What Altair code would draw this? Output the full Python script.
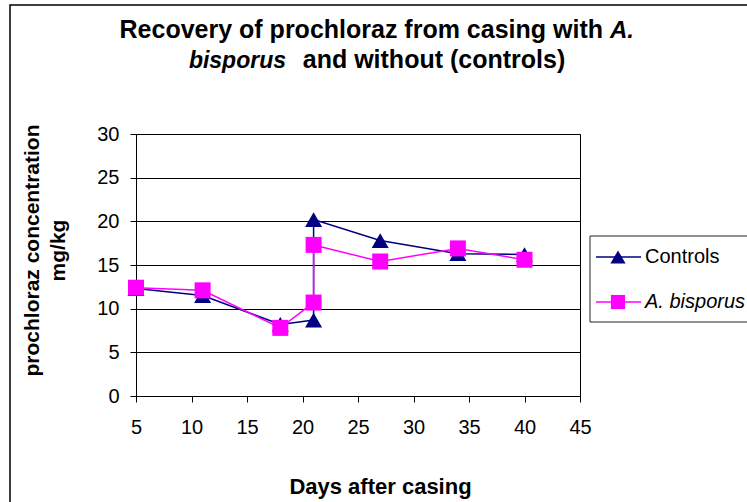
import altair as alt
import pandas as pd

# Measured prochloraz concentrations (mg/kg) by days after casing
days = [5, 11, 18, 21, 21, 27, 34, 40]
controls = [12.3, 11.5, 8.2, 8.7, 20.2, 17.8, 16.3, 16.2]
bisporus = [12.4, 12.1, 7.8, 10.7, 17.3, 15.4, 16.9, 15.6]
series_names = ["Controls", "A. bisporus"]
x_ticks = [5, 10, 15, 20, 25, 30, 35, 40, 45]
y_ticks = [0, 5, 10, 15, 20, 25, 30]

FONT = "Liberation Sans"
NAVY = "#000080"
MAGENTA = "#FF00FF"

rows = []
for name, values in zip(series_names, [controls, bisporus]):
    for i, (d, v) in enumerate(zip(days, values)):
        rows.append({"series": name, "day": d, "value": v, "seq": i})
df = pd.DataFrame(rows)

x_enc = alt.X(
    "day:Q",
    scale=alt.Scale(domain=[5, 45], nice=False, zero=False),
    axis=alt.Axis(
        values=x_ticks, grid=False, tickSize=6, labelPadding=31,
        labelBaseline="alphabetic", labelFlush=False, labelFont=FONT,
        labelFontSize=20, labelColor="black", domainColor="black",
        tickColor="black",
        title="Days after casing", titleFont=FONT, titleFontSize=22,
        titleFontWeight="bold", titleColor="black", titleX=244, titleY=97,
        titleAlign="center", titleBaseline="alphabetic",
    ),
)
y_enc = alt.Y(
    "value:Q",
    scale=alt.Scale(domain=[0, 30], nice=False),
    axis=alt.Axis(
        values=y_ticks, grid=True, gridColor="black", gridWidth=1,
        tickSize=6, labelPadding=11, labelFlush=False, labelFont=FONT,
        labelFontSize=20, labelColor="black", domainColor="black",
        tickColor="black",
        title=["prochloraz concentration", "mg/kg"], titleFont=FONT,
        titleFontSize=21, titleFontWeight="bold", titleColor="black",
        titleAngle=270, titleX=-98, titleY=116, titleAlign="center",
        titleBaseline="alphabetic", titleLineHeight=26,
    ),
)

base = alt.Chart(df)


def series_layers(name, color, shape, size):
    d = base.transform_filter(alt.datum.series == name)
    line = d.mark_line(color=color, strokeWidth=1.5).encode(
        x=x_enc, y=y_enc, order="seq:Q"
    )
    pts = d.mark_point(
        shape=shape, filled=True, color=color, size=size, opacity=1
    ).encode(x=x_enc, y=y_enc)
    return [line, pts]


one = pd.DataFrame({"k": [0]})

# outer chart frame
frame = alt.Chart(one).mark_rect(
    fillOpacity=0, stroke="black", strokeWidth=1.5
).encode(
    x=alt.value(-126), x2=alt.value(700), y=alt.value(-129), y2=alt.value(500)
)

# title, with the species name in italics
title_parts = [
    ("Recovery of prochloraz from casing with", "normal", "right", 467, -96, 25),
    ("A.", "italic", "left", 474, -96, 24),
    ("bisporus", "italic", "right", 150, -66, 23),
    ("and without (controls)", "normal", "center", 298, -66, 25),
]
title_layers = [
    alt.Chart(pd.DataFrame({"t": [txt]})).mark_text(
        font=FONT, fontSize=fs, fontWeight="bold", fontStyle=style,
        align=align, baseline="alphabetic", color="black",
    ).encode(text="t:N", x=alt.value(tx), y=alt.value(ty))
    for txt, style, align, tx, ty, fs in title_parts
]

# legend box and entries
legend_box = alt.Chart(one).mark_rect(
    fill="white", stroke="#222222", strokeWidth=1
).encode(x=alt.value(454), x2=alt.value(640), y=alt.value(102), y2=alt.value(188))

legend_layers = []
for name, color, shape, size, ly, style in [
    ("Controls", NAVY, "triangle-up", 230, 123, "normal"),
    ("A. bisporus", MAGENTA, "square", 200, 168, "italic"),
]:
    ld = alt.Chart(pd.DataFrame({"label": [name]}))
    legend_layers += [
        ld.mark_rule(color=color, strokeWidth=1.5).encode(
            x=alt.value(460), x2=alt.value(505), y=alt.value(ly)
        ),
        ld.mark_point(shape=shape, filled=True, color=color, size=size, opacity=1).encode(
            x=alt.value(482), y=alt.value(ly)
        ),
        ld.mark_text(
            font=FONT, fontSize=20, fontStyle=style, align="left",
            baseline="middle", color="black",
        ).encode(text="label:N", x=alt.value(509), y=alt.value(ly)),
    ]

layers = (
    [frame]
    + title_layers
    + series_layers("Controls", NAVY, "triangle-up", 290)
    + series_layers("A. bisporus", MAGENTA, "square", 256)
    + [legend_box]
    + legend_layers
)

chart = (
    alt.layer(*layers)
    .properties(
        width=444,
        height=262,
        autosize=alt.AutoSizeParams(type="none"),
        padding={"left": 136, "top": 134, "right": 167, "bottom": 106},
        background="white",
    )
    .configure_view(stroke="black", strokeWidth=1)
)

chart.save("out.html", embed_options={"renderer": "svg", "actions": False})
